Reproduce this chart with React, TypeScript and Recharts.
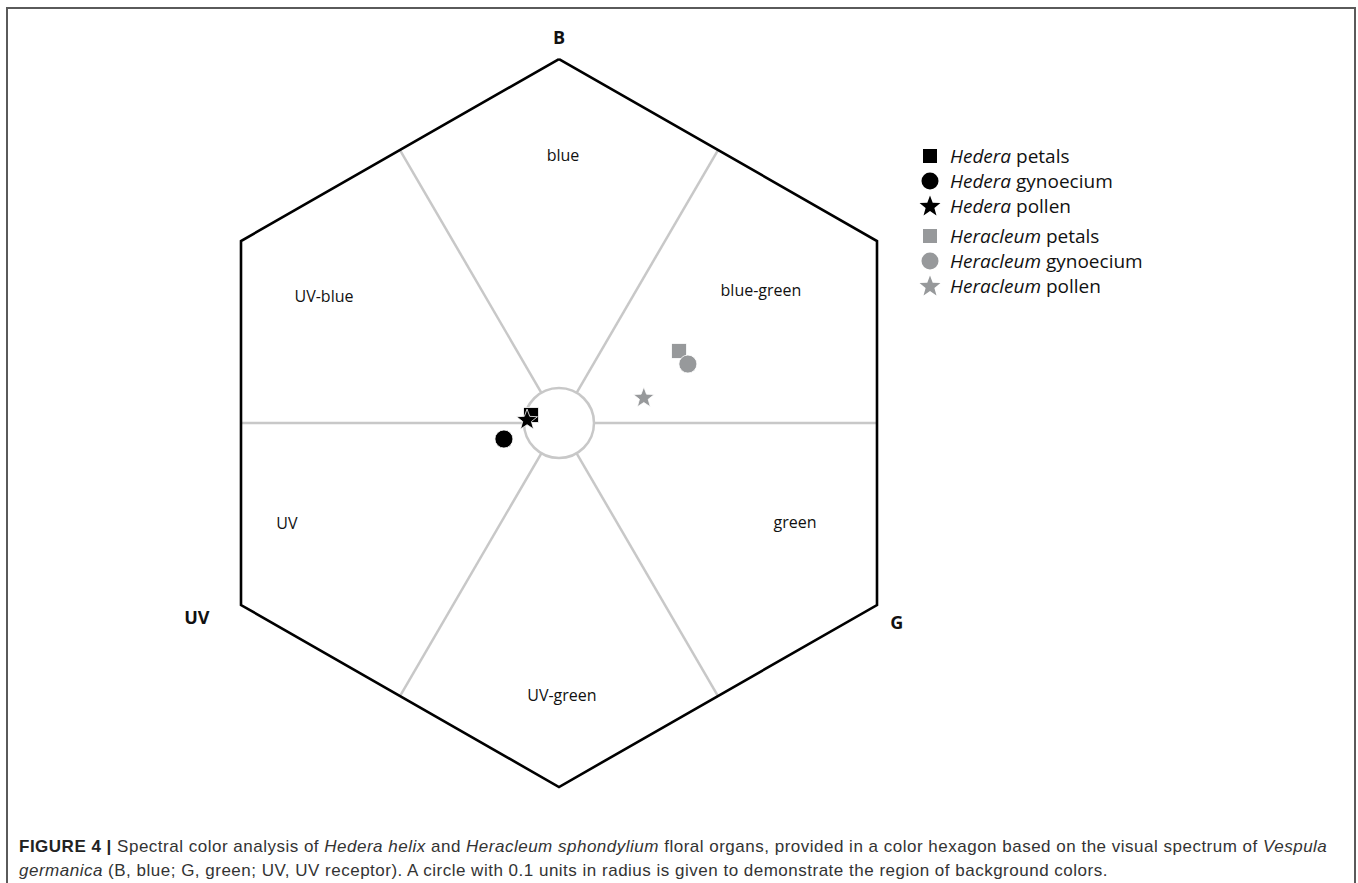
import React from "react";
import { ScatterChart, Scatter, XAxis, YAxis, ReferenceLine, ReferenceDot } from "recharts";

// colour hexagon in hexagon units (vertex distance = 1)
const hexagon = [
  { x: 0, y: 1 },
  { x: 0.866, y: 0.5 },
  { x: 0.866, y: -0.5 },
  { x: 0, y: -1 },
  { x: -0.866, y: -0.5 },
  { x: -0.866, y: 0.5 },
  { x: 0, y: 1 },
];
// spokes go from the centre to the mid point of each edge
const spokeEnds = [
  { x: 0.866, y: 0 },
  { x: 0.433, y: 0.75 },
  { x: -0.433, y: 0.75 },
  { x: -0.866, y: 0 },
  { x: -0.433, y: -0.75 },
  { x: 0.433, y: -0.75 },
];
const regionLabels = [
  { name: "blue", x: 0.011, y: 0.736 },
  { name: "UV-blue", x: -0.64, y: 0.349 },
  { name: "blue-green", x: 0.55, y: 0.365 },
  { name: "UV", x: -0.741, y: -0.275 },
  { name: "green", x: 0.643, y: -0.272 },
  { name: "UV-green", x: 0.008, y: -0.747 },
];
const vertexLabels = [
  { name: "B", x: 0, y: 1.06 },
  { name: "UV", x: -0.986, y: -0.533 },
  { name: "G", x: 0.92, y: -0.547 },
];

const hederaPetals = [{ x: -0.076, y: 0.022 }];
const hederaGynoecium = [{ x: -0.15, y: -0.044 }];
const hederaPollen = [{ x: -0.087, y: 0.008 }];
const heracleumPetals = [{ x: 0.327, y: 0.198 }];
const heracleumGynoecium = [{ x: 0.351, y: 0.162 }];
const heracleumPollen = [{ x: 0.231, y: 0.069 }];

const BLACK = "#000000";
const GREY = "#97999b";
const SPOKE = "#c8c8c8";
const labelFont = "'Open Sans', 'DejaVu Sans', sans-serif";

function starPoints(cx: number, cy: number, ro: number, ri: number) {
  const pts: string[] = [];
  for (let i = 0; i < 10; i++) {
    const r = i % 2 === 0 ? ro : ri;
    const a = -Math.PI / 2 + (i * Math.PI) / 5;
    pts.push(`${cx + r * Math.cos(a)},${cy + r * Math.sin(a)}`);
  }
  return pts.join(" ");
}

const squareShape = (fill: string) => (p: any) =>
  <rect x={p.cx - 7.5} y={p.cy - 7.5} width={15} height={15} fill={fill} stroke="#fff" strokeWidth={0.8} />;
const circleShape = (fill: string) => (p: any) =>
  <circle cx={p.cx} cy={p.cy} r={9} fill={fill} stroke="#fff" strokeWidth={0.8} />;
const starShape = (fill: string) => (p: any) =>
  <polygon points={starPoints(p.cx, p.cy, 11, 4.6)} fill={fill} stroke="#fff" strokeWidth={0.8} />;

const regionText = (p: any) => (
  <text x={p.cx} y={p.cy} textAnchor="middle" dominantBaseline="central"
    fontFamily={labelFont} fontSize={16} fill="#111">
    {p.payload?.name}
  </text>
);
const vertexText = (p: any) => (
  <text x={p.cx} y={p.cy} textAnchor="middle" dominantBaseline="central"
    fontFamily={labelFont} fontSize={18} fontWeight={700} fill="#111">
    {p.payload?.name}
  </text>
);

function LegendIcon({ kind, fill }: { kind: string; fill: string }) {
  return (
    <svg width={24} height={24} style={{ display: "block" }}>
      {kind === "square" && <rect x={5} y={5} width={14} height={14} fill={fill} />}
      {kind === "circle" && <circle cx={12} cy={12} r={8.5} fill={fill} />}
      {kind === "star" && <polygon points={starPoints(12, 12.5, 11, 4.6)} fill={fill} />}
    </svg>
  );
}

const legendRows = [
  { genus: "Hedera", organ: "petals", kind: "square", fill: BLACK, top: 144 },
  { genus: "Hedera", organ: "gynoecium", kind: "circle", fill: BLACK, top: 169 },
  { genus: "Hedera", organ: "pollen", kind: "star", fill: BLACK, top: 194 },
  { genus: "Heracleum", organ: "petals", kind: "square", fill: GREY, top: 224 },
  { genus: "Heracleum", organ: "gynoecium", kind: "circle", fill: GREY, top: 249 },
  { genus: "Heracleum", organ: "pollen", kind: "star", fill: GREY, top: 274 },
];

export default function App() {
  return (
    <div style={{ position: "relative", width: 1358, height: 883, background: "#fff", overflow: "hidden" }}>
      <style>{`body{margin:0}`}</style>
      <div style={{
        position: "absolute", left: 6, top: 7, width: 1346, height: 900,
        borderTop: "2px solid #5a5a5a", borderLeft: "2px solid #5a5a5a", borderRight: "2px solid #5a5a5a",
      }} />
      <div style={{ position: "absolute", left: 0, top: 0 }}>
        <ScatterChart width={1358} height={800} margin={{ top: 0, right: 0, bottom: 0, left: 0 }}>
          <XAxis type="number" dataKey="x" hide domain={[-1.5223, 2.1759]} allowDataOverflow />
          <YAxis type="number" dataKey="y" hide domain={[-1.0357, 1.1621]} allowDataOverflow />
          {spokeEnds.map((e, i) => (
            <ReferenceLine key={i} segment={[{ x: 0, y: 0 }, e]} stroke={SPOKE} strokeWidth={2.5} ifOverflow="visible" />
          ))}
          <ReferenceDot x={0} y={0} r={35} fill="#fff" stroke={SPOKE} strokeWidth={2.5} ifOverflow="visible" />
          <Scatter data={hexagon} line={{ stroke: BLACK, strokeWidth: 2.6 }} shape={() => <g />} isAnimationActive={false} />
          <Scatter data={regionLabels} shape={regionText} isAnimationActive={false} />
          <Scatter data={vertexLabels} shape={vertexText} isAnimationActive={false} />
          <Scatter data={hederaGynoecium} shape={circleShape(BLACK)} isAnimationActive={false} />
          <Scatter data={hederaPetals} shape={squareShape(BLACK)} isAnimationActive={false} />
          <Scatter data={hederaPollen} shape={starShape(BLACK)} isAnimationActive={false} />
          <Scatter data={heracleumPollen} shape={starShape(GREY)} isAnimationActive={false} />
          <Scatter data={heracleumPetals} shape={squareShape(GREY)} isAnimationActive={false} />
          <Scatter data={heracleumGynoecium} shape={circleShape(GREY)} isAnimationActive={false} />
        </ScatterChart>
      </div>
      {legendRows.map((r) => (
        <div key={r.genus + r.organ} style={{
          position: "absolute", left: 918, top: r.top, height: 24, display: "flex", alignItems: "center",
          fontFamily: labelFont, fontSize: 19, lineHeight: "22px", color: "#111", whiteSpace: "nowrap",
        }}>
          <LegendIcon kind={r.kind} fill={r.fill} />
          <span style={{ marginLeft: 8, lineHeight: "22px" }}><i>{r.genus}</i> {r.organ}</span>
        </div>
      ))}
      <div style={{
        position: "absolute", left: 19, top: 835, fontFamily: "'Liberation Sans', Arial, sans-serif",
        fontSize: 17, letterSpacing: 0.5, lineHeight: "24px", color: "#333", whiteSpace: "nowrap",
      }}>
        <div>
          <b style={{ color: "#222" }}>FIGURE 4 |</b> Spectral color analysis of <i>Hedera helix</i> and <i>Heracleum sphondylium</i> floral organs, provided in a color hexagon based on the visual spectrum of <i>Vespula</i>
        </div>
        <div>
          <i>germanica</i> (B, blue; G, green; UV, UV receptor). A circle with 0.1 units in radius is given to demonstrate the region of background colors.
        </div>
      </div>
    </div>
  );
}
